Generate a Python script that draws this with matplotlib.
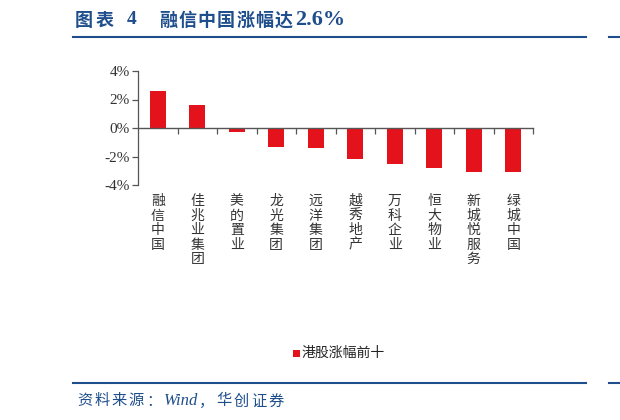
import matplotlib
matplotlib.use("Agg")
import matplotlib.pyplot as plt
import matplotlib.transforms as mtransforms
from matplotlib.patches import Rectangle
from matplotlib.lines import Line2D

categories = ["融信中国", "佳兆业集团", "美的置业", "龙光集团", "远洋集团",
              "越秀地产", "万科企业", "恒大物业", "新城悦服务", "绿城中国"]
values = [2.62, 1.6, -0.3, -1.35, -1.37, -2.2, -2.5, -2.83, -3.06, -3.06]
yticks = [-4, -2, 0, 2, 4]
ytick_labels = ["-4%", "-2%", "0%", "2%", "4%"]
legend_label = "港股涨幅前十"
title_prefix = "图表"
title_num = "4"
title_body = "融信中国涨幅达"
title_value = "2.6%"
source_cjk1 = "资料来源："
source_wind = "Wind"
source_cjk2 = "，华创证券"

CJK = ["Noto Sans CJK SC", "DejaVu Sans"]
SERIF = ["Liberation Serif", "Noto Sans CJK SC"]
plt.rcParams['font.family'] = CJK

fig = plt.figure(figsize=(6.2, 4.2), dpi=100)
W, H = 620, 420
ax = fig.add_axes([138 / W, 1 - 185 / H, (533 - 138) / W, (185 - 71) / H])

x = list(range(len(categories)))
ax.bar(x, values, width=0.41, color="#E3121B", zorder=2)
ax.set_xlim(-0.5, len(categories) - 0.5)
ax.set_ylim(-4, 4)
ax.set_yticks(yticks)
ax.set_yticklabels(ytick_labels, family=["Liberation Serif"], fontsize=11, color="#333333")
ax.tick_params(axis='y', direction='out', length=4, width=0.9, color="#555555", pad=2)

for s in ["top", "right"]:
    ax.spines[s].set_visible(False)
ax.spines['left'].set_color("#555555")
ax.spines['bottom'].set_color("#555555")
ax.spines['bottom'].set_position(('data', 0))
ax.spines['bottom'].set_linewidth(1.0)
ax.spines['left'].set_linewidth(0.9)

ax.set_xticks([k + 0.5 for k in x])
ax.set_xticklabels([])
ax.tick_params(axis='x', direction='out', length=4, width=0.9, color="#555555")

trans = mtransforms.blended_transform_factory(ax.transData, fig.transFigure)
for xi, name in zip(x, categories):
    ax.text(xi, 1 - 194 / H, "\n".join(name), transform=trans, ha='center', va='top',
            fontsize=10, color="#333333", linespacing=1.05, family=CJK)

# legend
fig.patches.append(Rectangle((293 / W, 1 - 357 / H), 7 / W, 7 / H, transform=fig.transFigure,
                             facecolor="#E3121B", edgecolor="none"))
fig.text(302 / W, 1 - 353 / H, legend_label, fontsize=10, va='center', ha='left',
         color="#222222", family=CJK)

renderer = fig.canvas.get_renderer()


def stepped(text, x0, y, step, **kw):
    xp = x0
    for ch in text:
        fig.text(xp / W, 1 - y / H, ch, va='center', ha='left', **kw)
        xp += step
    return xp


blue = "#1F4E8C"
tkw = dict(fontsize=13, fontweight='bold', color=blue)
stepped(title_prefix, 75, 20, 21, family=CJK, **tkw)
fig.text(127 / W, 1 - 20 / H, title_num, va='center', ha='left', family=SERIF,
         fontsize=14, fontweight='bold', color=blue)
xe = stepped(title_body, 159, 20, 19.3, family=CJK, **tkw)
fig.text((xe + 1) / W, 1 - 20 / H, title_value, va='center', ha='left', family=SERIF,
         fontsize=16, fontweight='bold', color=blue)

for y in (37, 383):
    fig.lines.append(Line2D([73 / W, 586 / W], [1 - y / H, 1 - y / H], transform=fig.transFigure,
                            color=blue, linewidth=1.5))
    fig.lines.append(Line2D([609 / W, 620 / W], [1 - y / H, 1 - y / H], transform=fig.transFigure,
                            color=blue, linewidth=1.5))

skw = dict(fontsize=11, color=blue)
xe = stepped(source_cjk1, 77, 401, 17.3, family=CJK, **skw)
tw = fig.text((xe + 0) / W, 1 - 401 / H, source_wind, va='center', ha='left', family=SERIF,
              style='italic', fontsize=12, color=blue)
xe = xe + tw.get_window_extent(renderer=renderer).width + 1
stepped(source_cjk2, xe, 401, 17.3, family=CJK, **skw)

fig.savefig("out.png", dpi=100)
